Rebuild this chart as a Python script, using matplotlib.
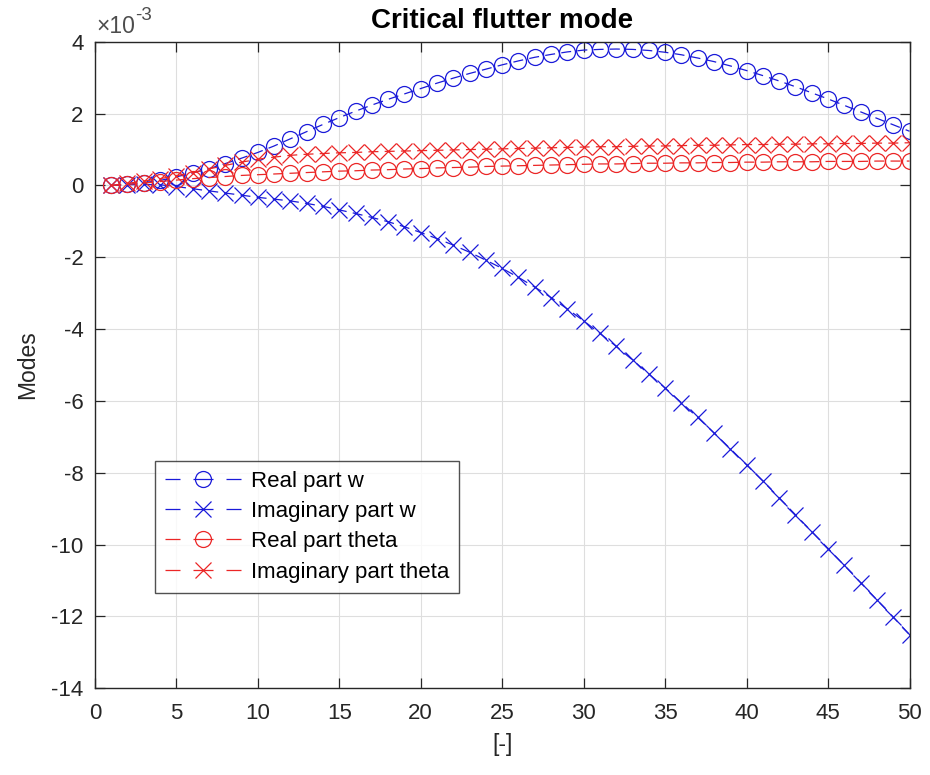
import matplotlib
matplotlib.use('Agg')
import matplotlib.pyplot as plt
from matplotlib.ticker import FuncFormatter

plt.rcParams['font.family'] = ['Liberation Sans', 'DejaVu Sans']
plt.rcParams['axes.unicode_minus'] = False

# node index along the beam
nodes = list(range(1, 51))

# mode components, in units of 1e-3
real_w = [0.00, 0.03, 0.08, 0.14, 0.24, 0.35, 0.47, 0.61, 0.76, 0.92,
          1.10, 1.30, 1.50, 1.70, 1.89, 2.07, 2.24, 2.40, 2.55, 2.70,
          2.85, 2.99, 3.12, 3.24, 3.36, 3.47, 3.57, 3.65, 3.72, 3.77,
          3.79, 3.80, 3.79, 3.76, 3.71, 3.64, 3.55, 3.45, 3.33, 3.20,
          3.06, 2.91, 2.75, 2.58, 2.41, 2.23, 2.05, 1.87, 1.69, 1.51]
imag_w = [0.00, 0.02, 0.03, 0.02, -0.03, -0.09, -0.15, -0.21, -0.27, -0.33,
          -0.38, -0.43, -0.50, -0.58, -0.68, -0.78, -0.89, -1.01, -1.15, -1.31,
          -1.48, -1.66, -1.86, -2.08, -2.31, -2.56, -2.83, -3.12, -3.44, -3.77,
          -4.12, -4.48, -4.86, -5.25, -5.64, -6.05, -6.46, -6.89, -7.33, -7.78,
          -8.23, -8.70, -9.17, -9.64, -10.11, -10.58, -11.06, -11.54, -12.02, -12.51]
real_theta = [0.00, 0.03, 0.07, 0.11, 0.15, 0.19, 0.22, 0.25, 0.28, 0.30,
              0.32, 0.34, 0.36, 0.38, 0.40, 0.41, 0.43, 0.44, 0.46, 0.47,
              0.49, 0.50, 0.51, 0.53, 0.54, 0.55, 0.56, 0.57, 0.58, 0.59,
              0.60, 0.60, 0.61, 0.62, 0.62, 0.63, 0.63, 0.64, 0.64, 0.65,
              0.65, 0.66, 0.66, 0.66, 0.67, 0.67, 0.67, 0.68, 0.68, 0.68]
imag_theta = [0.00, 0.06, 0.12, 0.19, 0.27, 0.36, 0.46, 0.56, 0.65, 0.73,
              0.79, 0.84, 0.87, 0.89, 0.91, 0.92, 0.94, 0.95, 0.96, 0.97,
              0.98, 0.99, 1.00, 1.01, 1.02, 1.03, 1.04, 1.05, 1.06, 1.07,
              1.08, 1.08, 1.09, 1.10, 1.10, 1.11, 1.12, 1.12, 1.13, 1.14,
              1.14, 1.15, 1.15, 1.16, 1.16, 1.17, 1.17, 1.18, 1.18, 1.19]

blue = (0.1, 0.1, 0.85)
red = (0.92, 0.15, 0.15)
series = [
    (real_w, 'o', blue, 'Real part w'),
    (imag_w, 'x', blue, 'Imaginary part w'),
    (real_theta, 'o', red, 'Real part theta'),
    (imag_theta, 'x', red, 'Imaginary part theta'),
]

fig = plt.figure(figsize=(9.3, 7.75), dpi=100)
ax = fig.add_axes([0.102, 0.112, 0.876, 0.834])

for vals, mk, col, lab in series:
    ax.plot(nodes, [v * 1e-3 for v in vals], linestyle='--', marker=mk,
            color=col, markerfacecolor='none', markersize=11.5,
            markeredgewidth=0.9, linewidth=0.9, dashes=(8, 5), label=lab)

ax.set_xlim(0, 50)
ax.set_ylim(-14e-3, 4e-3)
ax.set_xticks(range(0, 51, 5))
ax.set_yticks([v * 1e-3 for v in range(-14, 5, 2)])
# tick labels in units of 1e-3, exponent written above the axis
ax.yaxis.set_major_formatter(FuncFormatter(lambda v, p: '%g' % round(v / 1e-3, 6)))
ax.text(0.002, 1.006, '\u00d710', transform=ax.transAxes, fontsize=16.5,
        color='0.3', ha='left', va='bottom')
ax.annotate('-3', xy=(0.002, 1.006), xycoords='axes fraction',
            xytext=(28, 10), textcoords='offset points', fontsize=13.5,
            color='0.3', ha='left', va='bottom')

ax.grid(True, color='0.87', linewidth=0.8)
ax.set_axisbelow(True)
ax.tick_params(direction='in', top=True, right=True, labelsize=16,
               colors='0.15', length=7, width=0.9)
ax.tick_params(axis='x', pad=11)
ax.tick_params(axis='y', pad=8)
for sp in ax.spines.values():
    sp.set_color('0.15')
    sp.set_linewidth(1.0)

ax.set_title('Critical flutter mode', fontsize=20, fontweight='bold', pad=10)
ax.set_xlabel('[-]', fontsize=16.5, color='0.15', labelpad=6)
ax.set_ylabel('Modes', fontsize=16.5, color='0.15', labelpad=9)

leg = ax.legend(loc='lower left', bbox_to_anchor=(0.074, 0.148), fontsize=16,
                fancybox=False, edgecolor='0.15', handlelength=3.4,
                borderpad=0.45, labelspacing=0.42, handletextpad=0.45,
                borderaxespad=0)
leg.get_frame().set_linewidth(1.0)
# one dash each side of the marker, as a dashed line looks in a short sample
for ln in leg.get_lines():
    ln.set_dashes((12, 10.4, 16, 10.4, 12, 60))

fig.savefig('out.png', dpi=100)
